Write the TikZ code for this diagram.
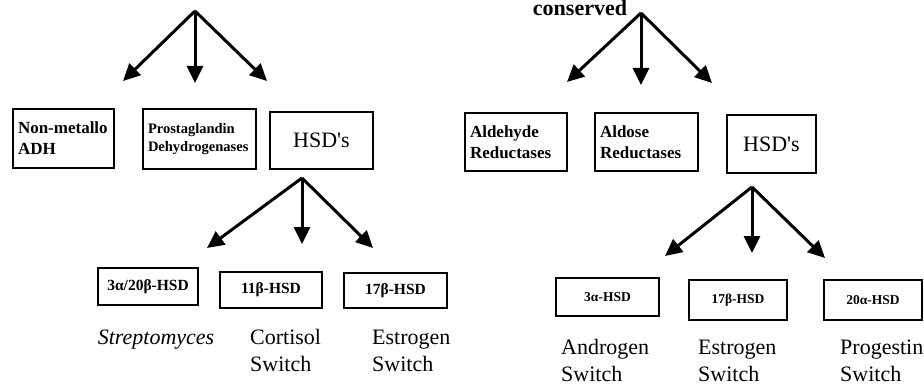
\documentclass[tikz,border=0pt]{standalone}
\usepackage{fontspec}
\setmainfont{Liberation Serif}
\usetikzlibrary{arrows.meta, positioning}

\begin{document}
\begin{tikzpicture}[
  x=1pt, y=-1pt,
  box/.style={rectangle, draw, line width=2.4pt, inner xsep=5pt, inner ysep=0pt},
  famname/.style={box, font=\fontsize{17}{21}\selectfont\bfseries, align=left},
  smallname/.style={box, font=\fontsize{14.5}{18}\selectfont\bfseries, align=left},
  hsdbox/.style={box, font=\fontsize{22}{26}\selectfont, align=center},
  enzbox/.style={box, font=\fontsize{15.5}{18}\selectfont\bfseries, align=center},
  arrow/.style={-{Triangle[length=17pt, width=16pt]}, line width=3pt},
  switch/.style={font=\fontsize{22}{27}\selectfont, align=left, anchor=base west, inner sep=0pt}
]
\useasboundingbox (0,0) rectangle (924,385);

% Left family: boxes of the first row
\node[famname, text width=91pt, minimum height=59pt] (nonmet) at (63.5,138.5) {Non-metallo\\ADH};
\node[smallname, text width=103pt, minimum height=60pt] (prosta) at (199.5,139) {Prostaglandin\\Dehydrogenases};
\node[hsdbox, minimum width=103pt, minimum height=57pt] (hsdL) at (321.5,140.5) {HSD\textquotesingle s};

% Right family: boxes of the first row
\node[font=\fontsize{22}{26}\selectfont\bfseries, anchor=base] (conserved) at (580,16) {conserved};
\node[famname, text width=92pt, minimum height=58pt] (aldeh) at (516,142) {Aldehyde\\Reductases};
\node[famname, text width=93pt, minimum height=58pt] (aldos) at (646.5,142) {Aldose\\Reductases};
\node[hsdbox, minimum width=89pt, minimum height=58pt] (hsdR) at (771.5,144) {HSD\textquotesingle s};

% Enzymes under the left HSD's
\node[enzbox, minimum width=100pt, minimum height=37pt] (ab3) at (148,286.5) {3α/20β-HSD};
\node[enzbox, minimum width=102pt, minimum height=36pt] (b11) at (271,290) {11β-HSD};
\node[enzbox, minimum width=103pt, minimum height=35pt] (b17L) at (395.5,290.5) {17β-HSD};

% Enzymes under the right HSD's
\node[enzbox, font=\fontsize{13.5}{16}\selectfont\bfseries, minimum width=103pt, minimum height=38pt] (a3) at (607.5,297) {3α-HSD};
\node[enzbox, font=\fontsize{13.5}{16}\selectfont\bfseries, minimum width=98pt, minimum height=40pt] (b17R) at (738,300) {17β-HSD};
\node[enzbox, font=\fontsize{13.5}{16}\selectfont\bfseries, minimum width=98pt, minimum height=40pt] (a20) at (873,300) {20α-HSD};

% Labels under the enzymes (base = last line)
\node[switch, anchor=base] (strep) at (156,344) {\textit{Streptomyces}};
\node[switch] (cort) at (250,371) {Cortisol\\Switch};
\node[switch] (estL) at (372,371) {Estrogen\\Switch};
\node[switch] (andr) at (561,381) {Androgen\\Switch};
\node[switch] (estR) at (698,381) {Estrogen\\Switch};
\node[switch] (prog) at (840,381) {Progestin\\Switch};

% Fork points and arrow ends
\coordinate (forkA) at (195,11);
\coordinate (forkA1) at (123,81);
\coordinate (forkA2) at (195,83);
\coordinate (forkA3) at (267,81);
\coordinate (forkB) at (641,13);
\coordinate (forkB1) at (567,82);
\coordinate (forkB2) at (641,85);
\coordinate (forkB3) at (712,83);
\coordinate (forkC) at (302,178);
\coordinate (forkC1) at (207,248);
\coordinate (forkC2) at (302,244);
\coordinate (forkC3) at (373,248);
\coordinate (forkD) at (752,187);
\coordinate (forkD1) at (665,256);
\coordinate (forkD2) at (752,253);
\coordinate (forkD3) at (825,258);

% Arrows
\foreach \f in {A, B, C, D} {
  \foreach \i in {1, 2, 3} {
    \draw[arrow] (fork\f) -- (fork\f\i);
  }
}

\end{tikzpicture}
\end{document}
